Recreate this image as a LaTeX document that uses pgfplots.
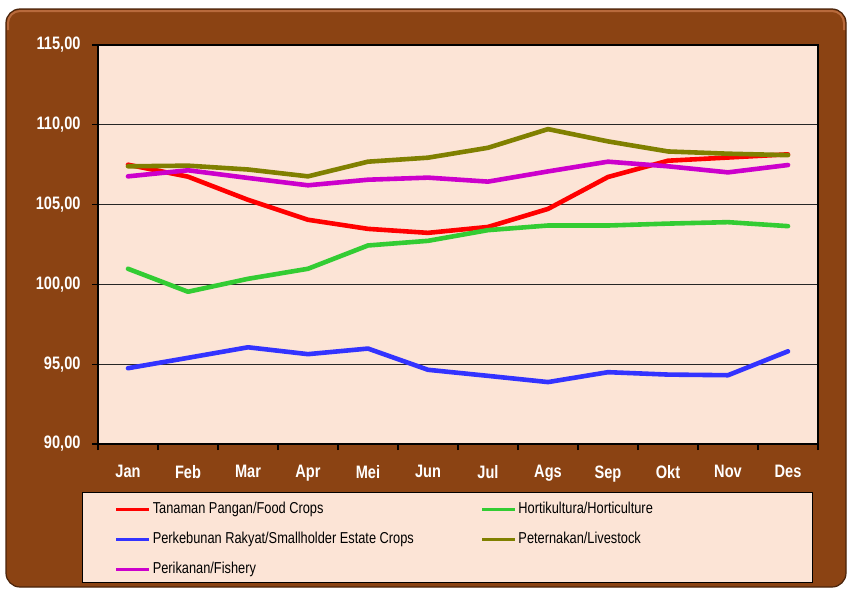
\documentclass[border=0pt]{standalone}
\usepackage{pgfplots}
\pgfplotsset{compat=1.18}
\usepackage{fontspec}
\setmainfont{Liberation Sans}
\newfontfamily\narrowfont[FakeStretch=0.81]{Liberation Sans}
\definecolor{brownbg}{HTML}{8B4313}
\definecolor{brownedge}{HTML}{4A230A}
\definecolor{brownhi}{HTML}{B86A3C}
\definecolor{peach}{HTML}{FCE4D6}
\definecolor{cred}{HTML}{FF0000}
\definecolor{cgreen}{HTML}{33CC33}
\definecolor{cblue}{HTML}{3333FF}
\definecolor{colive}{HTML}{808000}
\definecolor{cmag}{HTML}{CC00CC}
\begin{document}
\begin{tikzpicture}
\path[use as bounding box] (0,0) rectangle (847bp,-589bp);
\fill[white] (0,0) rectangle (847bp,-589bp);
\draw[draw=brownedge, fill=brownbg, rounded corners=14bp, line width=1.2bp] (6bp,-9bp) rectangle (846bp,-587bp);
\draw[brownhi, line width=2bp, rounded corners=12bp] (8bp,-30bp) -- (8bp,-11bp) -- (844bp,-11bp) -- (844bp,-30bp);
\draw[fill=peach, draw=black, line width=1bp] (82bp,-492bp) rectangle (812bp,-582bp);
\begin{axis}[
  at={(98bp,-444bp)}, anchor=south west,
  scale only axis, width=720bp, height=399bp,
  xmin=0.5, xmax=12.5, ymin=90, ymax=115,
  axis background/.style={fill=peach},
  xtick={1,...,12},
  xticklabels={Jan,Feb,Mar,Apr,Mei,Jun,Jul,Ags,Sep,Okt,Nov,Des},
  minor xtick={0.5,1.5,...,12.5},
  major x tick style={draw=none},
  ytick={90,95,100,105,110,115},
  tick pos=left,
  ymajorgrids,
  grid style={black!85, line width=0.9bp},
  tick align=outside,
  major tick length=6bp, minor tick length=6bp,
  tick style={black, line width=1.1bp},
  axis line style={black, line width=1.2bp},
  yticklabel style={font=\narrowfont\bfseries\fontsize{18bp}{20bp}\selectfont, text=white, xshift=-8bp},
  xticklabel style={font=\narrowfont\bfseries\fontsize{18bp}{20bp}\selectfont, text=white, yshift=-12bp},
  /pgf/number format/.cd, fixed, fixed zerofill, precision=2, use comma, assume math mode=true,
  /pgfplots/.cd,
  legend columns=2,
  legend cell align=left,
  legend style={at={(0.0236,-0.1429)}, anchor=north west, draw=none, fill=none,
    inner sep=0pt, row sep=14bp,
    font=\narrowfont\fontsize{15.8bp}{17bp}\selectfont,
    nodes={inner sep=0pt, text height=12bp, text depth=4bp},
    /tikz/every odd column/.append style={column sep=2bp},
    /tikz/every even column/.append style={column sep=67bp}},
  legend image code/.code={\draw[#1, line width=2.6bp, line cap=butt] (0bp,0bp) -- (33bp,0bp);},
  every axis plot/.append style={line width=4.6bp, line join=round, line cap=round},
]
\addplot[cred] coordinates {(1,107.5) (2,106.75) (3,105.3) (4,104.05) (5,103.48) (6,103.23) (7,103.6) (8,104.73) (9,106.73) (10,107.75) (11,107.95) (12,108.15)};
\addlegendentry{Tanaman Pangan/Food Crops}
\addplot[cgreen] coordinates {(1,100.98) (2,99.54) (3,100.35) (4,100.98) (5,102.44) (6,102.73) (7,103.4) (8,103.69) (9,103.69) (10,103.81) (11,103.9) (12,103.65)};
\addlegendentry{Hortikultura/Horticulture}
\addplot[cblue] coordinates {(1,94.75) (2,95.4) (3,96.06) (4,95.63) (5,95.98) (6,94.65) (7,94.27) (8,93.88) (9,94.5) (10,94.35) (11,94.31) (12,95.81)};
\addlegendentry{Perkebunan Rakyat/Smallholder Estate Crops}
\addplot[colive] coordinates {(1,107.4) (2,107.44) (3,107.2) (4,106.77) (5,107.69) (6,107.94) (7,108.56) (8,109.73) (9,108.96) (10,108.33) (11,108.19) (12,108.1)};
\addlegendentry{Peternakan/Livestock}
\addplot[cmag] coordinates {(1,106.77) (2,107.15) (3,106.67) (4,106.21) (5,106.56) (6,106.69) (7,106.44) (8,107.08) (9,107.69) (10,107.4) (11,107.02) (12,107.48)};
\addlegendentry{Perikanan/Fishery}
\end{axis}
\end{tikzpicture}
\end{document}
